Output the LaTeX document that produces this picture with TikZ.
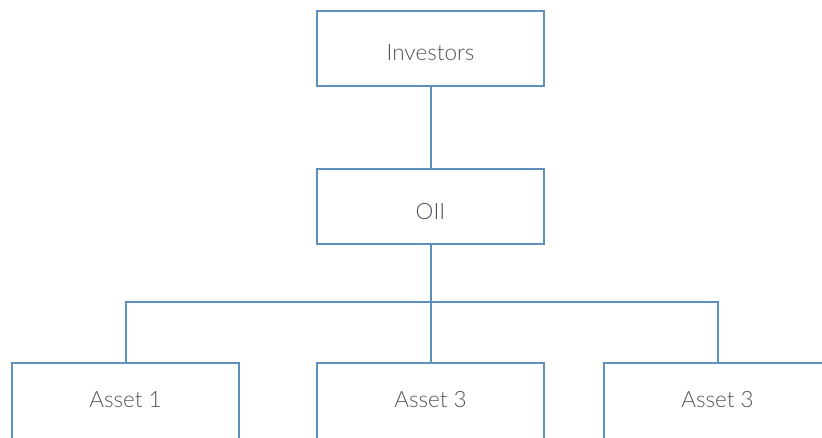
\documentclass[tikz,border=0pt]{standalone}
\usepackage{fontspec}
\setmainfont{Lato}[UprightFont=* Light]
\definecolor{boxblue}{HTML}{5F8FBC}
\definecolor{txtgray}{HTML}{50555B}
\begin{document}
\begin{tikzpicture}[x=1pt,y=-1pt,
  orgbox/.style={draw=boxblue,line width=2pt,fill=white,minimum width=227pt,minimum height=75pt,inner sep=0pt,anchor=north},
  lbl/.style={text=txtgray,font=\fontsize{22.5}{27}\selectfont},
  link/.style={draw=boxblue,line width=2pt}]
\useasboundingbox (0,0) rectangle (822,437);
\clip (0,0) rectangle (822,437);
\node[orgbox] (inv) at (430.5,10) {};
\node[lbl] (invt) at (430.5,53) {Investors};
\node[orgbox] (oii) at (430.5,168) {};
\node[lbl] (oiit) at (430.5,212) {OII};
\coordinate (busL) at (125.5,302);
\coordinate (busR) at (717.5,302);
\node[orgbox,minimum height=90pt] (a1) at (125.5,362) {};
\node[orgbox,minimum height=90pt] (a2) at (430.5,362) {};
\node[orgbox,minimum height=90pt] (a3) at (717.5,362) {};
\node[lbl] (a1t) at (125.5,400) {Asset 1};
\node[lbl] (a2t) at (430.5,400) {Asset 3};
\node[lbl] (a3t) at (717.5,400) {Asset 3};
\draw[link] (inv.south) -- (oii.north);
\draw[link] (oii.south) -- (a2.north);
\draw[link] (a1.north) -- (busL) -- (busR) -- (a3.north);
\end{tikzpicture}
\end{document}
